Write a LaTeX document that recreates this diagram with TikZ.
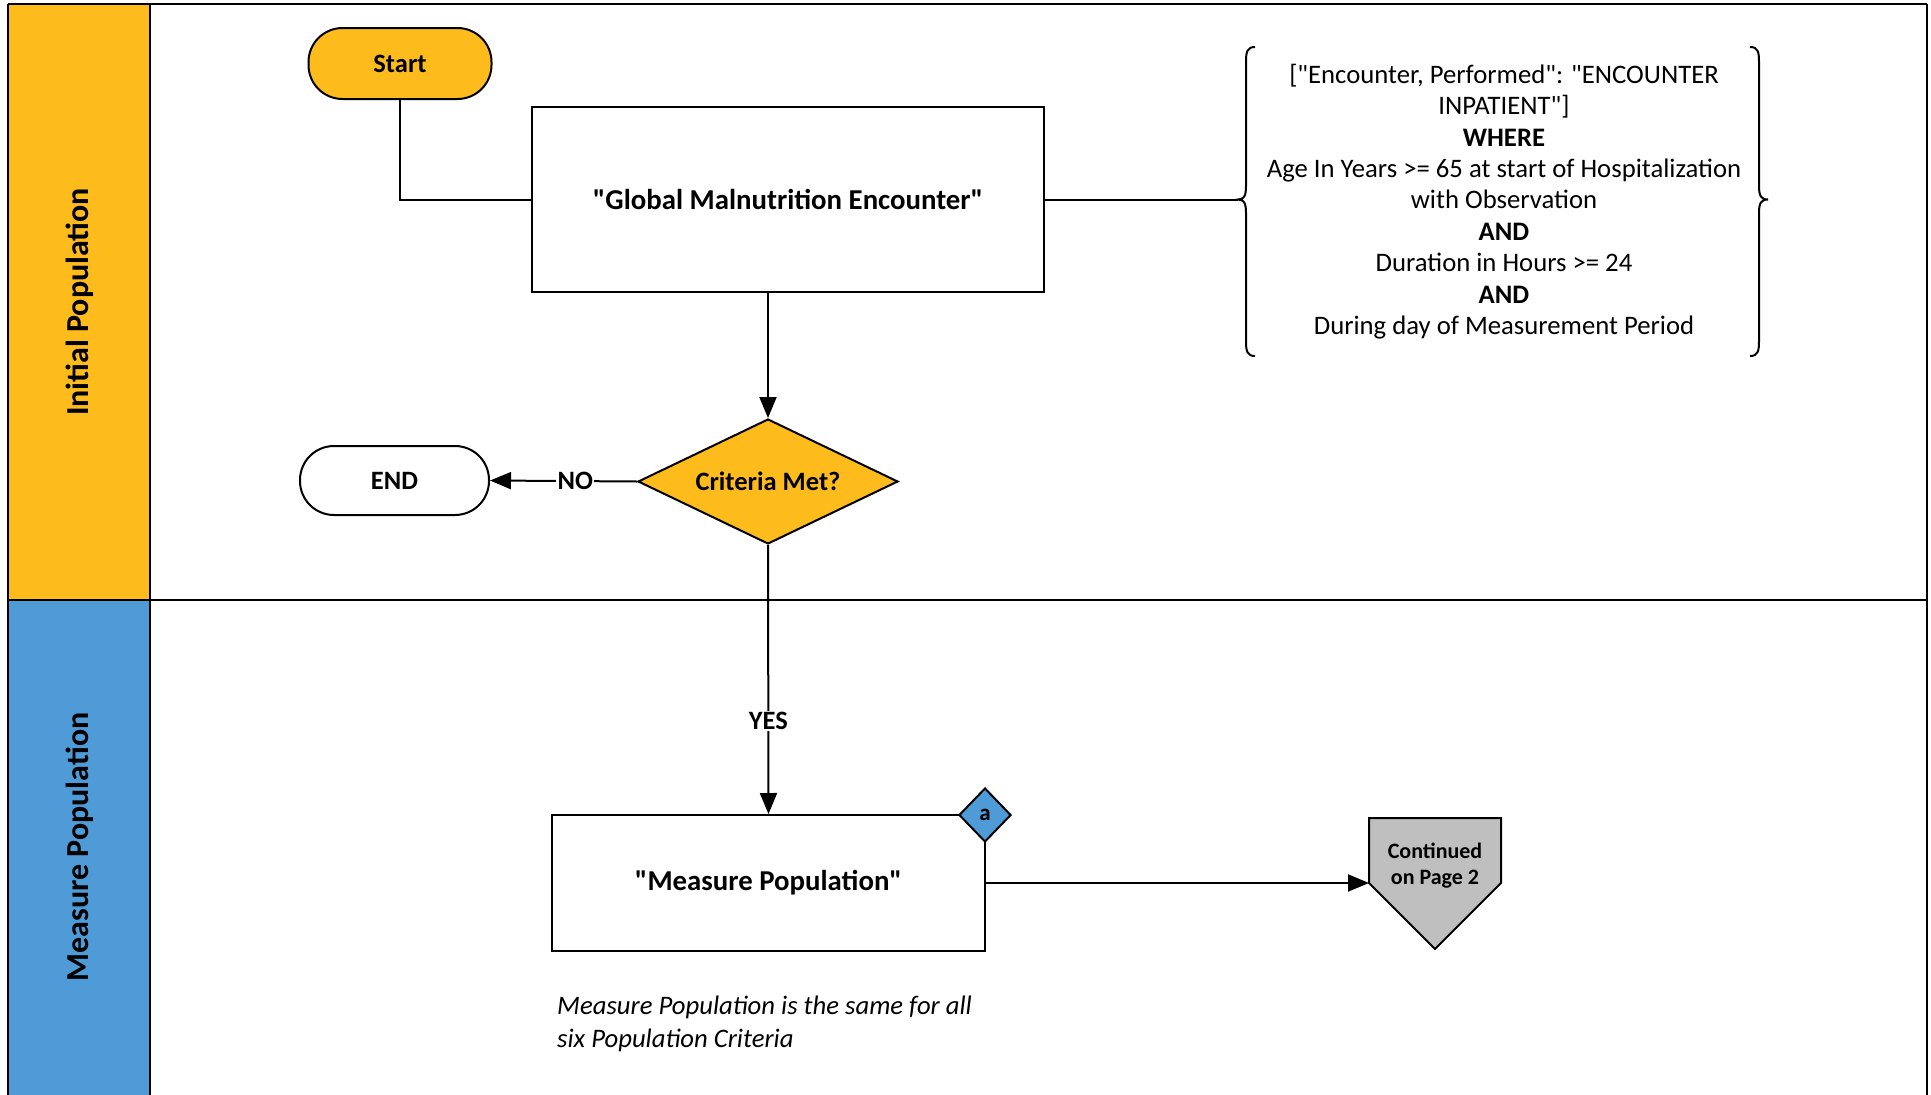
\documentclass[tikz,border=0pt]{standalone}
\usepackage{fontspec}
\setmainfont{Carlito}[Ligatures=TeXOff]
\usetikzlibrary{shapes.geometric,arrows.meta}
\definecolor{ipyellow}{HTML}{FDBB1C}
\definecolor{mpblue}{HTML}{4E9BD7}
\definecolor{offgray}{HTML}{BFBFBF}
\begin{document}
\begin{tikzpicture}[x=1pt,y=-1pt,
  every node/.style={inner sep=0pt},
  lw/.style={line width=2pt},
  arr/.style={line width=2pt,-{Triangle[length=21pt,width=17pt]}},
  boldtxt/.style={font=\fontsize{26.5}{31}\selectfont\bfseries},
  bigbold/.style={font=\fontsize{28.8}{34}\selectfont\bfseries},
  procbox/.style={draw,line width=2pt,fill=white,bigbold},
  terminal/.style={draw,line width=2pt,boldtxt,rounded corners=34pt},
  lanelabel/.style={rotate=90,font=\fontsize{32}{38}\selectfont\bfseries},
  lbl/.style={fill=white,inner sep=1.5pt,boldtxt}
]
\useasboundingbox (0,0) rectangle (1931,1095);
% swimlanes
\fill[ipyellow] (8,4) rectangle (150,600);
\fill[mpblue] (8,600) rectangle (150,1095);
\draw[line width=2.5pt] (8,4) -- (1927,4);
\draw[line width=2pt] (8,4) -- (8,1095);
\draw[line width=2pt] (150,4) -- (150,1095);
\draw[line width=1.5pt] (1927,4) -- (1927,1095);
\draw[line width=1.5pt] (8,600) -- (1927,600);
\node[lanelabel] (lane1) at (80,302) {Initial Population};
\node[lanelabel] (lane2) at (80,847) {Measure Population};

% nodes
\node[terminal,fill=ipyellow,minimum width=183pt,minimum height=71pt] (start) at (400,63.5) {Start};
\node[procbox,minimum width=512pt,minimum height=185pt] (gme) at (788,199.5) {"Global Malnutrition Encounter"};
\node[diamond,shape aspect=2.08,draw,line width=2pt,fill=ipyellow,boldtxt,minimum width=260pt,minimum height=125pt] (crit) at (768,481.5) {Criteria Met?};
\node[terminal,fill=white,minimum width=189pt,minimum height=69pt] (endn) at (394.5,480.5) {END};
\node[procbox,minimum width=433pt,minimum height=136pt] (mp) at (768.5,883) {"Measure Population"};
\node[diamond,draw,line width=2pt,fill=mpblue,font=\fontsize{23}{27}\selectfont\bfseries,minimum width=52pt,minimum height=54pt] (tag) at (985,815) {a};

% criteria text with braces
\node[align=center,font=\fontsize{26.7}{31.4}\selectfont] (crittext) at (1504,201.5)
 {["Encounter, Performed": "ENCOUNTER\\
  INPATIENT"]\\
  \textbf{WHERE}\\
  Age In Years >= 65 at start of Hospitalization\\
  with Observation\\
  \textbf{AND}\\
  Duration in Hours >= 24\\
  \textbf{AND}\\
  During day of Measurement Period};
\coordinate (bracetip) at (1238,199.5);
\draw[lw] (1255,47) .. controls (1247,47) and (1246,52) .. (1246,62) -- (1246,186)
  .. controls (1246,196) and (1244,199.5) .. (bracetip)
  .. controls (1244,199.5) and (1246,203) .. (1246,213) -- (1246,341)
  .. controls (1246,351) and (1247,356) .. (1255,356);
\draw[lw] (1750,47) .. controls (1758,47) and (1759,52) .. (1759,62) -- (1759,186)
  .. controls (1759,196) and (1761,199.5) .. (1768,199.5)
  .. controls (1761,199.5) and (1759,203) .. (1759,213) -- (1759,341)
  .. controls (1759,351) and (1758,356) .. (1750,356);

% off-page connector
\draw[lw,fill=offgray] (1369,818) -- (1501,818) -- (1501,883) -- (1435,949) -- (1369,883) -- cycle;
\coordinate (offin) at (1369,883);
\node[align=center,font=\fontsize{22}{26}\selectfont\bfseries] (cont) at (1435,866) {Continued\\on Page 2};

% note
\node[anchor=west,align=left,font=\fontsize{26.7}{33}\selectfont\itshape] (note) at (557,1024)
 {Measure Population is the same for all\\six Population Criteria};

% connectors
\draw[lw] (start.south) |- (gme.west);
\draw[lw] (gme.east) -- (bracetip);
\draw[arr] (gme.south -| crit.north) -- (crit.north);
\draw[arr] (crit.west) -- node[lbl,pos=0.42] (nolbl) {NO} (endn.east);
\draw[arr] (crit.south) -- node[lbl,pos=0.655] (yeslbl) {YES} (mp.north);
\draw[arr] (mp.east) -- (offin);
\end{tikzpicture}
\end{document}
